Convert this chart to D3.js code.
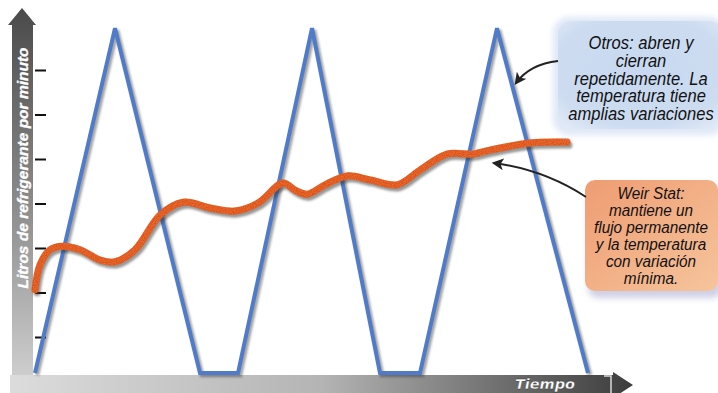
<!DOCTYPE html>
<html><head><meta charset="utf-8">
<script src="https://cdn.jsdelivr.net/npm/d3@7"></script>
<style>
html,body{margin:0;padding:0;background:#fff;}
svg{display:block;}
</style></head>
<body>
<script>
// ---- data ----
const yAxisTitle = "Litros de refrigerante por minuto";
const xAxisTitle = "Tiempo";
const yTicks = [1, 2, 3, 4, 5, 6, 7];
const timeOtros = [0, 8, 16.5, 20.3, 27.7, 34.5, 38.5, 46.2, 55.3];
const flowOtros = [0.19, 7.94, 0.19, 0.19, 7.94, 0.19, 0.19, 7.94, 0.19];
const timeWeir = [0, 0.5, 1.5, 2.8, 4.5, 6.5, 8.0, 10, 12.5, 14.8, 17.5, 20, 22.3, 24.8, 26, 27.2, 29, 31.2, 33.5, 36.2, 38.5, 41.2, 43.8, 45.5, 49.5, 53.2];
const flowWeir = [2.06, 2.62, 2.96, 3.04, 2.96, 2.73, 2.69, 2.96, 3.74, 4.03, 3.90, 3.83, 4.01, 4.46, 4.30, 4.21, 4.42, 4.62, 4.53, 4.42, 4.75, 5.11, 5.11, 5.20, 5.36, 5.38];
const noteOtros = ["Otros: abren y", "cierran", "repetidamente. La", "temperatura tiene", "amplias variaciones"];
const noteWeir = ["Weir Stat:", "mantiene un", "flujo permanente", "y la temperatura", "con variación", "mínima."];

const W = 718, H = 393;
const svg = d3.select("body").append("svg").attr("width", W).attr("height", H);
const defs = svg.append("defs");

// gradients
const gy = defs.append("linearGradient").attr("id", "gy").attr("x1", 0).attr("y1", 0).attr("x2", 0).attr("y2", 1);
gy.append("stop").attr("offset", 0).attr("stop-color", "#4a4a4a");
gy.append("stop").attr("offset", 0.5).attr("stop-color", "#8a8a8a");
gy.append("stop").attr("offset", 1).attr("stop-color", "#d4d4d4");
const gx = defs.append("linearGradient").attr("id", "gx").attr("x1", 0).attr("y1", 0).attr("x2", 1).attr("y2", 0);
gx.append("stop").attr("offset", 0).attr("stop-color", "#dcdcdc");
gx.append("stop").attr("offset", 0.5).attr("stop-color", "#b4b4b4");
gx.append("stop").attr("offset", 1).attr("stop-color", "#3c3c3c");
const gb = defs.append("radialGradient").attr("id", "gb").attr("cx", 0.5).attr("cy", 0.45).attr("r", 0.75);
gb.append("stop").attr("offset", 0).attr("stop-color", "#c7d8f0");
gb.append("stop").attr("offset", 0.7).attr("stop-color", "#cddcf0");
gb.append("stop").attr("offset", 1).attr("stop-color", "#e6eef9");
const go = defs.append("linearGradient").attr("id", "go").attr("x1", 0).attr("y1", 0).attr("x2", 1).attr("y2", 1);
go.append("stop").attr("offset", 0).attr("stop-color", "#ef9c72");
go.append("stop").attr("offset", 1).attr("stop-color", "#f6c49c");

const sh = defs.append("filter").attr("id", "sh").attr("x", "-10%").attr("y", "-10%").attr("width", "130%").attr("height", "130%");
sh.append("feGaussianBlur").attr("stdDeviation", 1.2);
const sb = defs.append("filter").attr("id", "blurBox").attr("x", "-20%").attr("y", "-20%").attr("width", "140%").attr("height", "140%");
sb.append("feGaussianBlur").attr("stdDeviation", 3);

// speckle filter for the orange line
const sp = defs.append("filter").attr("id", "speck");
sp.append("feTurbulence").attr("type", "fractalNoise").attr("baseFrequency", 0.9).attr("numOctaves", 1).attr("result", "n");
sp.append("feColorMatrix").attr("in", "n").attr("type", "matrix")
  .attr("values", "0 0 0 0 0.75  0 0 0 0 0.2  0 0 0 0 0.05  0 0 0 -1.6 1.1").attr("result", "dots");
sp.append("feComposite").attr("in", "dots").attr("in2", "SourceGraphic").attr("operator", "in").attr("result", "d2");
const mg = sp.append("feMerge");
mg.append("feMergeNode").attr("in", "SourceGraphic");
mg.append("feMergeNode").attr("in", "d2");

defs.append("marker").attr("id", "ah").attr("viewBox", "0 0 10 10").attr("refX", 8).attr("refY", 5)
  .attr("markerWidth", 6).attr("markerHeight", 6).attr("orient", "auto")
  .append("path").attr("d", "M0,0 L10,5 L0,10 L2.5,5 Z").attr("fill", "#222");

// scales
const x = d3.scaleLinear().domain([0, 60]).range([35, 635]);
const y = d3.scaleLinear().domain([0, 8]).range([381.5, 25.5]);

// axis bars
svg.append("path").attr("d", "M12,393 L12,25 L8,25 L22,8 L36,25 L33,25 L33,393 Z").attr("fill", "url(#gy)");
svg.append("path").attr("d", "M10,375 L613,375 L613,372 L633,385 L613,398 L613,393 L10,393 Z").attr("fill", "url(#gx)");
svg.append("path").attr("d", "M604,376 L611,376 L611,393").attr("fill", "none").attr("stroke", "#fff").attr("stroke-width", 1.5).attr("opacity", 0.8);

svg.append("text").attr("transform", "translate(28,168) rotate(-90)")
  .attr("text-anchor", "middle").attr("font-family", "Liberation Sans, Arial, sans-serif")
  .attr("font-weight", "bold").attr("font-style", "italic").attr("font-size", 15.5)
  .attr("fill", "#fff").attr("stroke", "#fff").attr("stroke-width", 0.3).text(yAxisTitle);
svg.append("text").attr("x", 545).attr("y", 389)
  .attr("text-anchor", "middle").attr("font-family", "Verdana, DejaVu Sans, sans-serif")
  .attr("font-weight", "bold").attr("font-style", "italic").attr("font-size", 14.5)
  .attr("fill", "#fff").attr("stroke", "#333").attr("stroke-width", 0.3).text(xAxisTitle);

// y ticks
const ax = svg.append("g").attr("transform", "translate(35,0)")
  .call(d3.axisRight(y).tickValues(yTicks).tickSize(11).tickFormat(""));
ax.select(".domain").remove();
ax.selectAll(".tick line").attr("stroke", "#111").attr("stroke-width", 2);

// lines
const otros = timeOtros.map((t, i) => [t, flowOtros[i]]);
const weir = timeWeir.map((t, i) => [t, flowWeir[i]]);
const lineO = d3.line().x(d => x(d[0])).y(d => y(d[1]));
const lineW = d3.line().x(d => x(d[0])).y(d => y(d[1])).curve(d3.curveCatmullRom.alpha(0.5));

svg.append("path").attr("d", lineO(otros)).attr("fill", "none").attr("stroke", "#333").attr("stroke-opacity", 0.45)
  .attr("stroke-width", 4.5).attr("transform", "translate(2,2)").attr("filter", "url(#sh)");
svg.append("path").attr("d", lineO(otros)).attr("fill", "none").attr("stroke", "#4f7bc9")
  .attr("stroke-width", 4).attr("stroke-linejoin", "miter");

svg.append("path").attr("d", lineW(weir)).attr("fill", "none").attr("stroke", "#333").attr("stroke-opacity", 0.5)
  .attr("stroke-width", 7).attr("stroke-linecap", "round").attr("transform", "translate(2,3)").attr("filter", "url(#sh)");
svg.append("path").attr("d", lineW(weir)).attr("fill", "none").attr("stroke", "#e24f18")
  .attr("stroke-width", 7).attr("stroke-linecap", "round").attr("filter", "url(#speck)");

// callout boxes
svg.append("rect").attr("x", 553).attr("y", 17).attr("width", 172).attr("height", 118).attr("rx", 16)
  .attr("fill", "#dfe8f6").attr("filter", "url(#blurBox)");
svg.append("rect").attr("x", 558).attr("y", 21).attr("width", 165).attr("height", 108).attr("rx", 13)
  .attr("fill", "url(#gb)");
svg.append("rect").attr("x", 588).attr("y", 186).attr("width", 134).attr("height", 112).attr("rx", 10)
  .attr("fill", "#c4c4e0").attr("filter", "url(#blurBox)").attr("opacity", 0.8);
svg.append("rect").attr("x", 585).attr("y", 180).attr("width", 133).attr("height", 111).attr("rx", 10)
  .attr("fill", "url(#go)");

const fam = "'Liberation Sans', Arial, sans-serif";
svg.append("g").selectAll("text").data(noteOtros).join("text")
  .attr("transform", (d, i) => `translate(641,${49 + i * 17.8}) scale(0.92,1)`)
  .attr("text-anchor", "middle").attr("font-family", fam).attr("font-style", "italic")
  .attr("font-size", 18).attr("fill", "#111").text(d => d);
svg.append("g").selectAll("text").data(noteWeir).join("text")
  .attr("transform", (d, i) => `translate(651,${199 + i * 16.9}) scale(0.9,1)`)
  .attr("text-anchor", "middle").attr("font-family", fam).attr("font-style", "italic")
  .attr("font-size", 17).attr("fill", "#111").text(d => d);

// arrows
svg.append("path").attr("d", "M558,61 Q530,64 516,83").attr("fill", "none").attr("stroke", "#222")
  .attr("stroke-width", 2).attr("marker-end", "url(#ah)");
svg.append("path").attr("d", "M586,197 Q545,170 494,163").attr("fill", "none").attr("stroke", "#222")
  .attr("stroke-width", 2).attr("marker-end", "url(#ah)");
</script>
</body></html>
